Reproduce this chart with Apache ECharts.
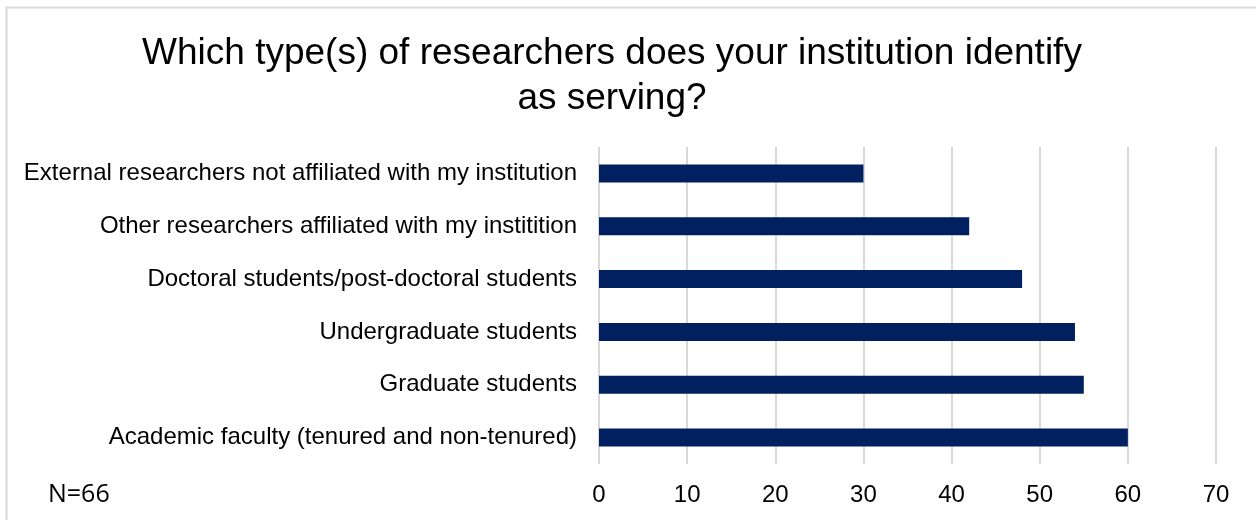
<!DOCTYPE html>
<html>
<head>
<meta charset="utf-8">
<script src="https://cdn.jsdelivr.net/npm/echarts@6/dist/echarts.min.js"></script>
<style>
html,body{margin:0;padding:0;background:#fff;}
#chart{width:1256px;height:520px;}
</style>
</head>
<body>
<div id="chart"></div>
<script>
const categories = [
  "Academic faculty (tenured and non-tenured)",
  "Graduate students",
  "Undergraduate students",
  "Doctoral students/post-doctoral students",
  "Other researchers affiliated with my institition",
  "External researchers not affiliated with my institution"
];
const values = [60, 55, 54, 48, 42, 30];
const xTicks = [0, 10, 20, 30, 40, 50, 60, 70];
const titleLines = ["Which type(s) of researchers does your institution identify", "as serving?"];
const noteText = "N=66";

const chart = echarts.init(document.getElementById('chart'), null, {renderer: 'canvas'});
chart.setOption({
  backgroundColor: '#fff',
  animation: false,
  graphic: [
    {type: 'rect', shape: {x: 6.5, y: 7.5, width: 1300, height: 600}, style: {fill: 'none', stroke: '#d9d9d9', lineWidth: 2}, silent: true},
    {type: 'text', x: 612, y: 31, style: {text: titleLines.join('\n'), font: '37px "Liberation Sans", Arial, sans-serif', fill: '#000', textAlign: 'center', lineHeight: 45}},
    {type: 'text', x: 48, y: 482, style: {text: noteText, font: '25px "Open Sans", Lato, sans-serif', fill: '#000'}}
  ],
  grid: {left: 599, right: 40, top: 147, bottom: 56, containLabel: false},
  xAxis: {
    type: 'value', min: xTicks[0], max: xTicks[xTicks.length - 1], interval: 10,
    axisLine: {show: false}, axisTick: {show: false},
    axisLabel: {color: '#000', fontSize: 24, fontFamily: '"Liberation Sans", Arial, sans-serif', margin: 19},
    splitLine: {show: true, lineStyle: {color: '#d9d9d9', width: 2}}
  },
  yAxis: {
    type: 'category', data: categories,
    axisLine: {show: false}, axisTick: {show: false},
    axisLabel: {color: '#000', fontSize: 24, fontFamily: '"Liberation Sans", Arial, sans-serif', margin: 22}
  },
  series: [{
    type: 'bar', data: values, barWidth: 18,
    itemStyle: {color: '#002060'}
  }]
});
</script>
</body>
</html>
